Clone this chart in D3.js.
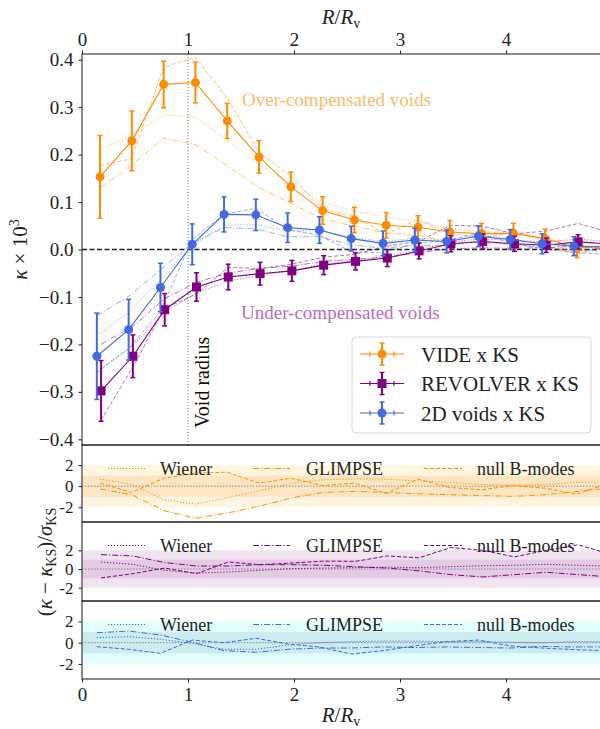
<!DOCTYPE html>
<html>
<head>
<meta charset="utf-8">
<script src="https://cdn.jsdelivr.net/npm/d3@7"></script>
<style>
  body { margin: 0; background: #fff; }
</style>
</head>
<body>
<div id="chart"></div>
<script>
// radial bins (R / Rv), one list per void finder
const rVide     = [0.17, 0.47, 0.77, 1.07, 1.37, 1.67, 1.97, 2.27, 2.57, 2.87, 3.17, 3.47, 3.77, 4.07, 4.37, 4.67, 4.97];
const rRevolver = [0.18, 0.48, 0.78, 1.08, 1.38, 1.68, 1.98, 2.28, 2.58, 2.88, 3.18, 3.48, 3.78, 4.08, 4.38, 4.68, 4.98];
const r2d       = [0.14, 0.44, 0.74, 1.04, 1.34, 1.64, 1.94, 2.24, 2.54, 2.84, 3.14, 3.44, 3.74, 4.04, 4.34, 4.64, 4.94];

// kappa x 10^3 with the KS map, and its error
const kappaVide     = [0.153, 0.229, 0.348, 0.352, 0.271, 0.195, 0.132, 0.082, 0.062, 0.051, 0.047, 0.037, 0.033, 0.034, 0.023, 0.003, 0.008];
const errVide       = [0.087, 0.063, 0.049, 0.043, 0.037, 0.034, 0.031, 0.029, 0.027, 0.027, 0.024, 0.024, 0.022, 0.021, 0.020, 0.020, 0.020];
const kappaRevolver = [-0.298, -0.225, -0.127, -0.079, -0.058, -0.051, -0.045, -0.033, -0.025, -0.018, -0.003, 0.012, 0.017, 0.012, 0.009, 0.016, 0.012];
const errRevolver   = [0.064, 0.045, 0.034, 0.030, 0.027, 0.024, 0.022, 0.020, 0.018, 0.018, 0.017, 0.017, 0.016, 0.016, 0.015, 0.015, 0.015];
const kappa2d       = [-0.225, -0.169, -0.080, 0.011, 0.074, 0.073, 0.046, 0.041, 0.023, 0.013, 0.020, 0.017, 0.028, 0.021, 0.012, 0.007, 0.005];
const err2d         = [0.091, 0.064, 0.051, 0.043, 0.037, 0.033, 0.031, 0.028, 0.026, 0.026, 0.025, 0.024, 0.022, 0.021, 0.021, 0.020, 0.020];

// (kappa - kappa_KS) / sigma_KS for the other mass maps
const wienerVide      = [0.67, 0.16, -1.3, -1.7, -1.1, -0.45, 0.25, 0.6, 0.7, 0.65, 0.5, 0.35, 0.15, 0.1, 0.15, 0.35, 0.4];
const glimpseVide     = [-0.26, -0.82, -2.3, -3.05, -2.55, -1.9, -1.13, -0.6, -0.5, -0.6, -0.72, -0.82, -0.9, -0.97, -0.82, -0.5, -0.2];
const nullVide        = [0.28, -0.6, 0.75, 1.23, 1.32, 0.28, 0.75, 0.06, 0.28, -0.7, 0.66, -0.13, -0.35, 0.06, -0.2, -0.75, 0.25];
const wienerRevolver  = [0.75, 0.5, -0.14, -0.43, -0.32, -0.14, 0.04, 0.1, 0.15, 0.2, 0.15, 0.25, 0.35, 0.4, 0.5, 0.4, 0.3];
const glimpseRevolver = [1.54, 1.4, 0.69, 0.32, 0.32, 0.46, 0.46, 0.4, 0.25, 0.1, -0.2, -0.6, -0.85, -0.6, -0.35, -0.6, -0.85];
const nullRevolver    = [-0.96, -0.5, 0.1, -0.5, 0.75, 0.46, 0.64, 0.85, 0.82, 1.4, 1.2, 2.3, 2.0, 1.3, 2.0, 2.6, 1.6];
const wiener2d        = [0.47, 0.57, 0.32, -0.06, -0.62, -0.62, -0.22, 0.0, 0.1, 0.15, 0.15, 0.1, 0.1, 0.05, 0.0, 0.1, 0.1];
const glimpse2d       = [0.94, 1.1, 0.73, 0.04, -0.75, -0.9, -0.62, -0.5, -0.5, -0.4, -0.45, -0.4, -0.45, -0.5, -0.35, -0.4, -0.4];
const null2d          = [-0.38, -0.62, -1.0, 0.25, 0.0, 0.42, -0.12, -0.4, -1.07, -0.75, -0.3, 0.1, 0.25, -0.3, -0.5, -0.65, -0.75];

const xTicks = [0, 1, 2, 3, 4];
const yTicksTop = [-0.4, -0.3, -0.2, -0.1, 0.0, 0.1, 0.2, 0.3, 0.4];
const yTicksRes = [-2, 0, 2];
const mapNames = ['Wiener', 'GLIMPSE', 'null B-modes'];

const width = 600;
const height = 729;
const FONT = 'Liberation Serif, DejaVu Serif, serif';

const dashes = {
    Wiener: '1.2,1.8',
    GLIMPSE: '6,2,1.2,2',
    'null B-modes': '4,2',
};

const series = [
    { name: 'VIDE x KS', color: '#ff8c00', marker: 'circle', r: rVide, k: kappaVide, e: errVide,
      res: [wienerVide, glimpseVide, nullVide], bandOuter: '#fff6e2', bandInner: '#ffe6c2' },
    { name: 'REVOLVER x KS', color: '#800080', marker: 'square', r: rRevolver, k: kappaRevolver, e: errRevolver,
      res: [wienerRevolver, glimpseRevolver, nullRevolver], bandOuter: '#f1e4f1', bandInner: '#e3cbe3' },
    { name: '2D voids x KS', color: '#4169e1', marker: 'circle', r: r2d, k: kappa2d, e: err2d,
      res: [wiener2d, glimpse2d, null2d], bandOuter: '#e2fdfd', bandInner: '#cdecf0' },
];

const svg = d3.select('#chart').append('svg')
    .attr('width', width)
    .attr('height', height)
    .attr('font-family', FONT);

const x = d3.scaleLinear().domain([0, 5]).range([82, 612]);
const yTop = d3.scaleLinear().domain([-0.412, 0.412]).range([445, 54]);

// residual panels
const resPanels = [
    d3.scaleLinear().domain([-3.4, 3.9]).range([522, 445]),
    d3.scaleLinear().domain([-3.43, 5.04]).range([601, 522]),
    d3.scaleLinear().domain([-3.42, 3.93]).range([679, 601]),
];

const defs = svg.append('defs');
function addClip(id, y0, y1) {
    defs.append('clipPath').attr('id', id)
        .append('rect')
        .attr('x', x(0)).attr('y', y0)
        .attr('width', x(5) - x(0)).attr('height', y1 - y0);
}
addClip('clip-top', 54, 445);
resPanels.forEach((s, i) => addClip(`clip-res-${i}`, s.range()[1], s.range()[0]));

function drawMarker(g, s, cx, cy, size) {
    if (s.marker === 'square') {
        g.append('rect')
            .attr('x', cx - size).attr('y', cy - size)
            .attr('width', size * 2).attr('height', size * 2)
            .attr('fill', s.color);
    } else {
        g.append('circle')
            .attr('cx', cx).attr('cy', cy).attr('r', size)
            .attr('fill', s.color);
    }
}

// ---------- top panel ----------
const topG = svg.append('g').attr('clip-path', 'url(#clip-top)');

topG.append('line')
    .attr('x1', x(0)).attr('x2', x(5))
    .attr('y1', yTop(0)).attr('y2', yTop(0))
    .attr('stroke', '#222').attr('stroke-width', 1.5)
    .attr('stroke-dasharray', '5,2.5');

topG.append('line')
    .attr('x1', x(1)).attr('x2', x(1))
    .attr('y1', yTop(0.412)).attr('y2', yTop(-0.412))
    .attr('stroke', '#777').attr('stroke-width', 1)
    .attr('stroke-dasharray', '1.2,1.8');

const line = d3.line().x(d => x(d[0])).y(d => yTop(d[1]));

// other mass maps: kappa_KS + residual * sigma
series.forEach(s => {
    s.res.forEach((res, j) => {
        const pts = s.r.map((r, i) => [r, s.k[i] + res[i] * s.e[i]]);
        topG.append('path')
            .attr('d', line(pts))
            .attr('fill', 'none')
            .attr('stroke', s.color)
            .attr('stroke-opacity', 0.55)
            .attr('stroke-width', 1)
            .attr('stroke-dasharray', dashes[mapNames[j]]);
    });
});

series.forEach(s => {
    const g = topG.append('g');
    g.append('path')
        .attr('d', line(s.r.map((r, i) => [r, s.k[i]])))
        .attr('fill', 'none')
        .attr('stroke', s.color)
        .attr('stroke-width', 1.1);

    s.r.forEach((r, i) => {
        const cx = x(r);
        const y1 = yTop(s.k[i] + s.e[i]);
        const y2 = yTop(s.k[i] - s.e[i]);
        g.append('line').attr('x1', cx).attr('x2', cx).attr('y1', y1).attr('y2', y2)
            .attr('stroke', s.color).attr('stroke-width', 2);
        [y1, y2].forEach(yy => {
            g.append('line').attr('x1', cx - 2.5).attr('x2', cx + 2.5).attr('y1', yy).attr('y2', yy)
                .attr('stroke', s.color).attr('stroke-width', 1.5);
        });
        drawMarker(g, s, cx, yTop(s.k[i]), 4.5);
    });
});

// annotations
svg.append('text')
    .attr('x', 242).attr('y', 106)
    .attr('font-size', 19)
    .attr('fill', '#ffb866')
    .text('Over-compensated voids');

svg.append('text')
    .attr('x', 241).attr('y', 319)
    .attr('font-size', 19)
    .attr('fill', '#bb6abb')
    .text('Under-compensated voids');

svg.append('text')
    .attr('transform', `translate(${x(1) + 21},428) rotate(-90)`)
    .attr('font-size', 20)
    .attr('fill', '#111')
    .text('Void radius');

// legend
const legend = svg.append('g');
legend.append('rect')
    .attr('x', 352).attr('y', 337)
    .attr('width', 239).attr('height', 96)
    .attr('rx', 4)
    .attr('fill', '#fff').attr('fill-opacity', 0.85)
    .attr('stroke', '#d8d8d8');

series.forEach((s, i) => {
    const ly = 354 + i * 29.5;
    const g = legend.append('g');
    g.append('line').attr('x1', 360).attr('x2', 404).attr('y1', ly).attr('y2', ly)
        .attr('stroke', s.color).attr('stroke-width', 1.2);
    [370, 394].forEach(tx => {
        g.append('line').attr('x1', tx).attr('x2', tx).attr('y1', ly - 2.5).attr('y2', ly + 2.5)
            .attr('stroke', s.color).attr('stroke-width', 1.2);
    });
    g.append('line').attr('x1', 382).attr('x2', 382).attr('y1', ly - 11).attr('y2', ly + 11)
        .attr('stroke', s.color).attr('stroke-width', 2);
    [ly - 11, ly + 11].forEach(yy => {
        g.append('line').attr('x1', 379.5).attr('x2', 384.5).attr('y1', yy).attr('y2', yy)
            .attr('stroke', s.color).attr('stroke-width', 1.5);
    });
    drawMarker(g, s, 382, ly, 4.5);
    g.append('text')
        .attr('x', 421).attr('y', ly + 7.5)
        .attr('font-size', 21)
        .attr('fill', '#222')
        .text(s.name);
});

// ---------- residual panels ----------
series.forEach((s, p) => {
    const y = resPanels[p];
    const g = svg.append('g').attr('clip-path', `url(#clip-res-${p})`);

    g.append('rect')
        .attr('x', x(0)).attr('width', x(5) - x(0))
        .attr('y', y(2)).attr('height', y(-2) - y(2))
        .attr('fill', s.bandOuter);
    g.append('rect')
        .attr('x', x(0)).attr('width', x(5) - x(0))
        .attr('y', y(1)).attr('height', y(-1) - y(1))
        .attr('fill', s.bandInner);

    g.append('line')
        .attr('x1', x(0)).attr('x2', x(5))
        .attr('y1', y(0)).attr('y2', y(0))
        .attr('stroke', '#888').attr('stroke-width', 1)
        .attr('stroke-dasharray', '1.5,1.5');

    const rl = d3.line().x(d => x(d[0])).y(d => y(d[1]));
    s.res.forEach((res, j) => {
        g.append('path')
            .attr('d', rl(s.r.map((r, i) => [r, res[i]])))
            .attr('fill', 'none')
            .attr('stroke', s.color)
            .attr('stroke-width', 1)
            .attr('stroke-dasharray', dashes[mapNames[j]]);
    });

    // legend row
    const top0 = y.range()[1];
    const ly = top0 + 23.5;
    const slots = [[108, 145, 160], [253, 290, 306], [424, 462, 477]];
    mapNames.forEach((name, j) => {
        const [a, b, t] = slots[j];
        svg.append('line')
            .attr('x1', a).attr('x2', b).attr('y1', ly).attr('y2', ly)
            .attr('stroke', s.color).attr('stroke-width', 1)
            .attr('stroke-dasharray', dashes[name]);
        svg.append('text')
            .attr('x', t).attr('y', ly + 6.5)
            .attr('font-size', 18)
            .attr('fill', '#222')
            .text(name);
    });

    const ax = svg.append('g')
        .attr('transform', `translate(${x(0)},0)`)
        .call(d3.axisLeft(y).tickValues(yTicksRes).tickSize(3.5).tickPadding(5)
            .tickFormat(d => d < 0 ? '-' + Math.abs(d) : String(d)));
    ax.attr('font-family', FONT).attr('font-size', 17);
    ax.select('.domain').remove();
    ax.selectAll('text').attr('fill', '#222');
    ax.selectAll('line').attr('stroke', '#222');
});

// ---------- frames and axes ----------
[[54, 445], [445, 522], [522, 601], [601, 679]].forEach(([a, b]) => {
    svg.append('rect')
        .attr('x', x(0)).attr('y', a)
        .attr('width', x(5) - x(0)).attr('height', b - a)
        .attr('fill', 'none')
        .attr('stroke', '#2a2a2a').attr('stroke-width', 1.1);
});

const axT = svg.append('g')
    .attr('transform', 'translate(0,54)')
    .call(d3.axisTop(x).tickValues(xTicks).tickSize(3.5).tickPadding(5).tickFormat(d3.format('d')));
const axB = svg.append('g')
    .attr('transform', 'translate(0,679)')
    .call(d3.axisBottom(x).tickValues(xTicks).tickSize(3.5).tickPadding(5).tickFormat(d3.format('d')));
const axL = svg.append('g')
    .attr('transform', `translate(${x(0)},0)`)
    .call(d3.axisLeft(yTop).tickValues(yTicksTop).tickSize(3.5).tickPadding(5).tickFormat(d3.format('.1f')));

[axT, axB, axL].forEach(a => {
    a.attr('font-family', FONT).attr('font-size', 19);
    a.select('.domain').remove();
    a.selectAll('text').attr('fill', '#222');
    a.selectAll('line').attr('stroke', '#222');
});

// axis labels
function rLabel(yy) {
    const t = svg.append('text')
        .attr('x', 341).attr('y', yy)
        .attr('text-anchor', 'middle')
        .attr('font-size', 21)
        .attr('fill', '#222');
    t.append('tspan').attr('font-style', 'italic').text('R');
    t.append('tspan').text('/');
    t.append('tspan').attr('font-style', 'italic').text('R');
    t.append('tspan').attr('font-size', 14).attr('dy', 4).text('v');
}
rLabel(24);
rLabel(722);

const yl = svg.append('text')
    .attr('transform', `translate(27,${(54 + 445) / 2}) rotate(-90)`)
    .attr('text-anchor', 'middle')
    .attr('font-size', 21)
    .attr('fill', '#222');
yl.append('tspan').attr('font-style', 'italic').text('κ');
yl.append('tspan').text(' × 10');
yl.append('tspan').attr('font-size', 14).attr('dy', -8).text('3');

const yr = svg.append('text')
    .attr('transform', `translate(52,${(445 + 679) / 2}) rotate(-90)`)
    .attr('text-anchor', 'middle')
    .attr('font-size', 21)
    .attr('fill', '#222');
yr.append('tspan').text('(');
yr.append('tspan').attr('font-style', 'italic').text('κ');
yr.append('tspan').text(' − ');
yr.append('tspan').attr('font-style', 'italic').text('κ');
yr.append('tspan').attr('font-size', 14).attr('dy', 4).text('KS');
yr.append('tspan').attr('dy', -4).text(')/');
yr.append('tspan').attr('font-style', 'italic').text('σ');
yr.append('tspan').attr('font-size', 14).attr('dy', 4).text('KS');
</script>
</body>
</html>
